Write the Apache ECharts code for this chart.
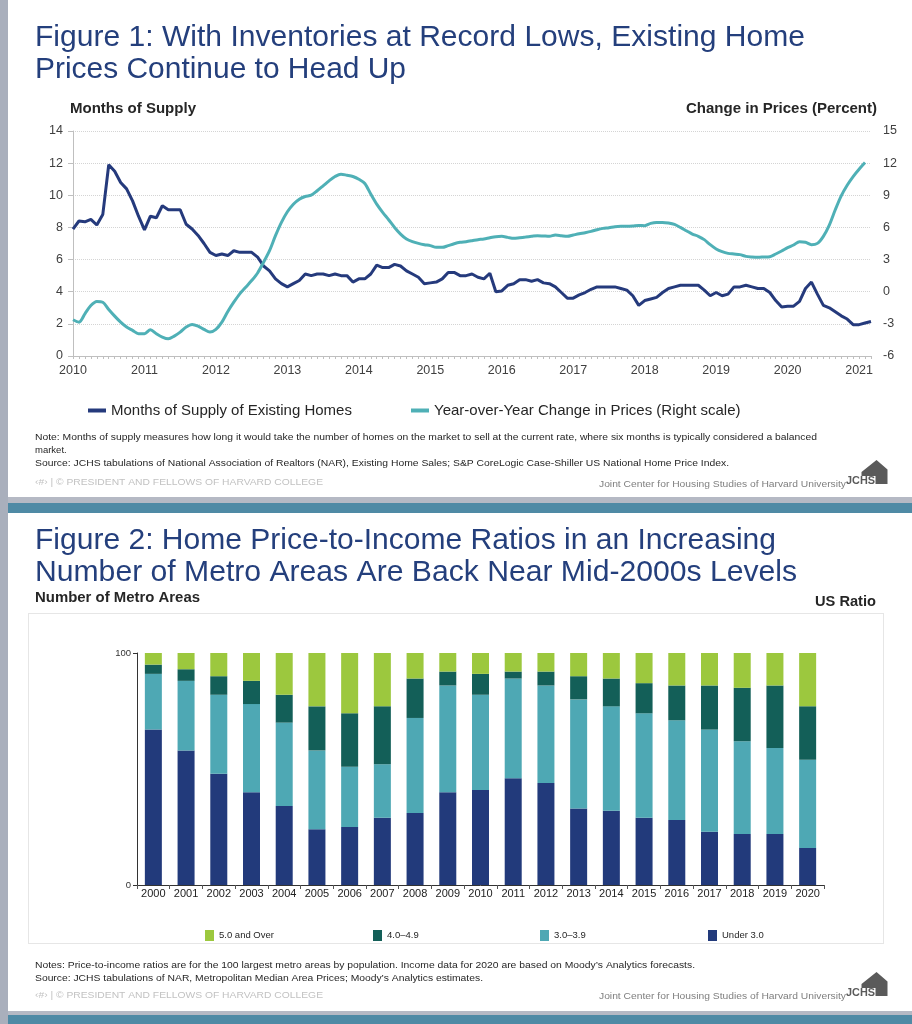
<!DOCTYPE html>
<html><head><meta charset="utf-8">
<script src="https://cdn.jsdelivr.net/npm/echarts@6/dist/echarts.min.js"></script>
<style>
html,body{margin:0;padding:0;width:912px;height:1024px;background:#fff;overflow:hidden}
.b{position:absolute}
#chart{position:absolute;left:0;top:0;width:912px;height:1024px}
</style></head><body>
<div class="b" style="left:0;top:0;width:8px;height:1024px;background:#a9afbc"></div>
<div class="b" style="left:8px;top:497px;width:904px;height:6px;background:#b5b9c4"></div>
<div class="b" style="left:8px;top:503px;width:904px;height:10px;background:#4f8aa5"></div>
<div class="b" style="left:28px;top:613px;width:854px;height:329px;border:1px solid #e6e6e6"></div>
<div class="b" style="left:8px;top:1011px;width:904px;height:4px;background:#b5b9c4"></div>
<div class="b" style="left:8px;top:1015px;width:904px;height:9px;background:#4f8aa5"></div>
<div id="chart"></div>
<script>
// ---------- Figure 1 data (monthly, Jan 2010 onward) ----------
const yearLabels = ['2010','2011','2012','2013','2014','2015','2016','2017','2018','2019','2020','2021'];
const supplyName = 'Months of Supply of Existing Homes';
const priceName = 'Year-over-Year Change in Prices (Right scale)';
const monthsOfSupply = [
 7.9,8.4,8.35,8.5,8.15,8.8,11.9,11.5,10.8,10.4,9.65,8.7,
 7.85,8.7,8.6,9.35,9.1,9.1,9.1,8.2,7.9,7.5,7.0,6.45,
 6.25,6.35,6.25,6.55,6.45,6.45,6.45,6.15,5.6,5.3,4.8,4.5,
 4.3,4.5,4.7,5.1,5.0,5.1,5.1,5.0,5.1,5.0,5.0,4.6,
 4.8,4.8,5.1,5.65,5.5,5.5,5.7,5.6,5.3,5.1,4.9,4.5,
 4.55,4.6,4.8,5.2,5.2,5.0,5.0,5.1,4.9,4.8,5.15,4.0,
 4.05,4.4,4.5,4.75,4.75,4.65,4.75,4.55,4.5,4.3,3.95,3.6,
 3.6,3.8,3.95,4.15,4.3,4.3,4.3,4.3,4.2,4.1,3.75,3.15,
 3.45,3.55,3.65,3.95,4.2,4.3,4.4,4.4,4.4,4.4,4.1,3.75,
 3.95,3.75,3.85,4.3,4.3,4.4,4.3,4.2,4.2,3.95,3.45,3.05,
 3.1,3.1,3.4,4.2,4.6,3.85,3.15,3.0,2.75,2.5,2.3,1.95,
 1.95,2.05,2.15
];
const priceChange = [
 -2.62,-2.84,-2.06,-1.29,-0.91,-0.98,-1.66,-2.28,-2.84,-3.30,-3.61,-3.92,
 -3.92,-3.55,-3.92,-4.23,-4.39,-4.14,-3.77,-3.30,-3.05,-3.21,-3.52,-3.77,
 -3.52,-2.84,-1.84,-0.98,-0.20,0.42,1.04,1.75,2.75,3.83,5.23,6.47,
 7.46,8.17,8.64,8.89,9.01,9.42,9.88,10.35,10.75,10.97,10.87,10.75,
 10.50,10.10,9.11,8.17,7.40,6.72,6.00,5.38,4.92,4.67,4.51,4.39,
 4.30,4.14,4.14,4.30,4.48,4.61,4.67,4.76,4.86,4.92,5.04,5.14,
 5.17,5.07,4.98,5.04,5.10,5.17,5.23,5.20,5.17,5.29,5.23,5.17,
 5.29,5.41,5.51,5.63,5.79,5.91,5.97,6.07,6.10,6.10,6.13,6.19,
 6.16,6.38,6.47,6.47,6.41,6.28,6.00,5.69,5.38,5.17,4.86,4.39,
 3.99,3.74,3.58,3.52,3.46,3.30,3.24,3.21,3.24,3.27,3.52,3.80,
 4.11,4.36,4.67,4.61,4.39,4.51,5.17,6.22,7.65,8.95,9.94,10.75,
 11.43,12.05,null
];
const monthNames = ['01','02','03','04','05','06','07','08','09','10','11','12'];
const monthCats = [];
yearLabels.forEach(y => monthNames.forEach(m => monthCats.push(y + '-' + m)));
monthCats.length = monthsOfSupply.length;

// ---------- Figure 2 data ----------
const years2 = ['2000','2001','2002','2003','2004','2005','2006','2007','2008','2009','2010','2011','2012','2013','2014','2015','2016','2017','2018','2019','2020'];
const under30   = [67,58,48,40,34,24,25,29,31,40,41,46,44,33,32,29,28,23,22,22,16];
const r30to39   = [24,30,34,38,36,34,26,23,41,46,41,43,42,47,45,45,43,44,40,37,38];
const r40to49   = [4,5,8,10,12,19,23,25,17,6,9,3,6,10,12,13,15,19,23,27,23];
const over50    = [5,7,10,12,18,23,26,23,11,8,9,8,8,10,11,13,14,14,15,14,23];
const barNames = ['5.0 and Over','4.0–4.9','3.0–3.9','Under 3.0'];

// ---------- helpers ----------
const FF = '"Liberation Sans", Arial, sans-serif';
const mctx = document.createElement('canvas').getContext('2d');
function T(text, x, y, size, width, o) {
  o = o || {};
  const fw = o.bold ? 'bold' : 'normal';
  mctx.font = fw + ' ' + size + 'px ' + FF;
  const w = mctx.measureText(text).width;
  return {
    type: 'text', x: x, y: y, scaleX: width ? width / w : 1, z: 10,
    style: { text: text, fontSize: size, fontFamily: FF, fontWeight: fw,
      fill: o.color || '#262626', textAlign: o.align || 'left', textVerticalAlign: 'middle' }
  };
}
function logo(dy) {
  return [
    { type: 'polygon', z: 10, shape: { points: [[861.5,472+dy],[876.5,460+dy],[887.5,469.5+dy],[887.5,484+dy],[875.5,484+dy],[875.5,476+dy],[861.5,476+dy]] }, style: { fill: '#5a5a5a' } },
    T('JCHS', 846, 480.5 + dy, 11, 29, { bold: true, color: '#5a5a5a' })
  ];
}
const TITLE = '#243f7c';
const NOTE = '#262626';

const graphics = [
  T('Figure 1: With Inventories at Record Lows, Existing Home', 35, 38, 29, 770, { color: TITLE }),
  T('Prices Continue to Head Up', 35, 70, 29, 371, { color: TITLE }),
  T('Months of Supply', 70, 109, 14, 126, { bold: true }),
  T('Change in Prices (Percent)', 877, 109, 14, 191, { bold: true, align: 'right' }),
  T('Note: Months of supply measures how long it would take the number of homes on the market to sell at the current rate, where six months is typically considered a balanced', 35, 437, 9.5, 782, { color: NOTE }),
  T('market.', 35, 450, 9.5, 0, { color: NOTE }),
  T('Source: JCHS tabulations of National Association of Realtors (NAR), Existing Home Sales; S&P CoreLogic Case-Shiller US National Home Price Index.', 35, 463, 9.5, 694, { color: NOTE }),
  T('‹#› | © PRESIDENT AND FELLOWS OF HARVARD COLLEGE', 35, 482, 9.5, 288, { color: '#c2c2c2' }),
  T('Joint Center for Housing Studies of Harvard University', 846, 484, 9.5, 247, { color: '#7f7f7f', align: 'right' }),
  ...logo(0),
  T('Figure 2: Home Price-to-Income Ratios in an Increasing', 35, 541, 30, 741, { color: TITLE }),
  T('Number of Metro Areas Are Back Near Mid-2000s Levels', 35, 573, 30, 762, { color: TITLE }),
  T('Number of Metro Areas', 35, 598, 14, 165, { bold: true }),
  T('US Ratio', 876, 602, 14, 61, { bold: true, align: 'right' }),
  T('Notes: Price-to-income ratios are for the 100 largest metro areas by population. Income data for 2020 are based on Moody’s Analytics forecasts.', 35, 965, 9.5, 660, { color: NOTE }),
  T('Source: JCHS tabulations of NAR, Metropolitan Median Area Prices; Moody’s Analytics estimates.', 35, 978, 9.5, 448, { color: NOTE }),
  T('‹#› | © PRESIDENT AND FELLOWS OF HARVARD COLLEGE', 35, 995, 9.5, 288, { color: '#c2c2c2' }),
  T('Joint Center for Housing Studies of Harvard University', 846, 996, 9.5, 247, { color: '#7f7f7f', align: 'right' }),
  ...logo(512)
];

const NAVY = '#253a7c', TEAL = '#4fb0b6';
const C_OVER = '#9cc83e', C_40 = '#135f58', C_30 = '#4ea8b4', C_UNDER = '#223a7b';
const AX = '#404040';

function legendAt(name, left, top, o) {
  return Object.assign({ data: [name], left: left, top: top, padding: 0, selectedMode: false,
    textStyle: { fontFamily: FF, color: '#262626' } }, o);
}

const option = {
  animation: false,
  textStyle: { fontFamily: FF },
  graphic: graphics,
  grid: [
    { left: 73, top: 131, width: 798, height: 225 },
    { left: 137, top: 653, width: 687, height: 232 }
  ],
  legend: [
    legendAt(supplyName, 88, 403, { icon: 'rect', itemWidth: 18, itemHeight: 4, textStyle: { fontFamily: FF, fontSize: 15, color: '#262626' } }),
    legendAt(priceName, 411, 403, { icon: 'rect', itemWidth: 18, itemHeight: 4, textStyle: { fontFamily: FF, fontSize: 15, color: '#262626' } }),
    legendAt(barNames[0], 205, 930, { icon: 'rect', itemWidth: 9, itemHeight: 11, textStyle: { fontFamily: FF, fontSize: 9.5, color: '#262626' } }),
    legendAt(barNames[1], 373, 930, { icon: 'rect', itemWidth: 9, itemHeight: 11, textStyle: { fontFamily: FF, fontSize: 9.5, color: '#262626' } }),
    legendAt(barNames[2], 540, 930, { icon: 'rect', itemWidth: 9, itemHeight: 11, textStyle: { fontFamily: FF, fontSize: 9.5, color: '#262626' } }),
    legendAt(barNames[3], 708, 930, { icon: 'rect', itemWidth: 9, itemHeight: 11, textStyle: { fontFamily: FF, fontSize: 9.5, color: '#262626' } })
  ],
  xAxis: [
    { type: 'category', gridIndex: 0, data: monthCats, boundaryGap: false,
      axisLine: { lineStyle: { color: '#bfbfbf' } },
      axisTick: { show: true, interval: 0, length: 3, lineStyle: { color: '#bfbfbf' } },
      axisLabel: { interval: (i) => i % 12 === 0, formatter: (v) => v.slice(0, 4), color: AX, fontSize: 12.5, margin: 8 },
      splitLine: { show: false } },
    { type: 'category', gridIndex: 1, data: years2,
      axisLine: { lineStyle: { color: '#333' } },
      axisTick: { show: true, length: 4, lineStyle: { color: '#555' } },
      axisLabel: { color: '#222', fontSize: 11, margin: 3 } }
  ],
  yAxis: [
    { type: 'value', gridIndex: 0, min: 0, max: 14, interval: 2,
      axisLine: { show: true, lineStyle: { color: '#bfbfbf' } },
      axisTick: { show: true, length: 5, lineStyle: { color: '#bfbfbf' } },
      axisLabel: { color: AX, fontSize: 12.5, margin: 10 },
      splitLine: { show: true, lineStyle: { color: '#d4d4d4', type: 'dotted' } } },
    { type: 'value', gridIndex: 0, min: -6, max: 15, interval: 3, position: 'right',
      axisLine: { show: false }, axisTick: { show: false },
      axisLabel: { color: AX, fontSize: 12.5, margin: 12 },
      splitLine: { show: false } },
    { type: 'value', gridIndex: 1, min: 0, max: 100, interval: 100,
      axisLine: { show: true, lineStyle: { color: '#333' } },
      axisTick: { show: true, length: 4, lineStyle: { color: '#333' } },
      axisLabel: { color: '#333', fontSize: 9.5, margin: 6 },
      splitLine: { show: false } }
  ],
  series: [
    { name: supplyName, type: 'line', xAxisIndex: 0, yAxisIndex: 0, data: monthsOfSupply,
      showSymbol: false, symbol: 'none', color: NAVY, lineStyle: { width: 3, color: NAVY } },
    { name: priceName, type: 'line', xAxisIndex: 0, yAxisIndex: 1, data: priceChange,
      showSymbol: false, symbol: 'none', smooth: 0.3, color: TEAL, lineStyle: { width: 3, color: TEAL } },
    { name: barNames[3], type: 'bar', stack: 'm', xAxisIndex: 1, yAxisIndex: 2, barWidth: 17, data: under30, color: C_UNDER },
    { name: barNames[2], type: 'bar', stack: 'm', xAxisIndex: 1, yAxisIndex: 2, barWidth: 17, data: r30to39, color: C_30 },
    { name: barNames[1], type: 'bar', stack: 'm', xAxisIndex: 1, yAxisIndex: 2, barWidth: 17, data: r40to49, color: C_40 },
    { name: barNames[0], type: 'bar', stack: 'm', xAxisIndex: 1, yAxisIndex: 2, barWidth: 17, data: over50, color: C_OVER }
  ]
};
const chart = echarts.init(document.getElementById('chart'), null, { renderer: 'canvas' });
chart.setOption(option);
</script>
</body></html>
